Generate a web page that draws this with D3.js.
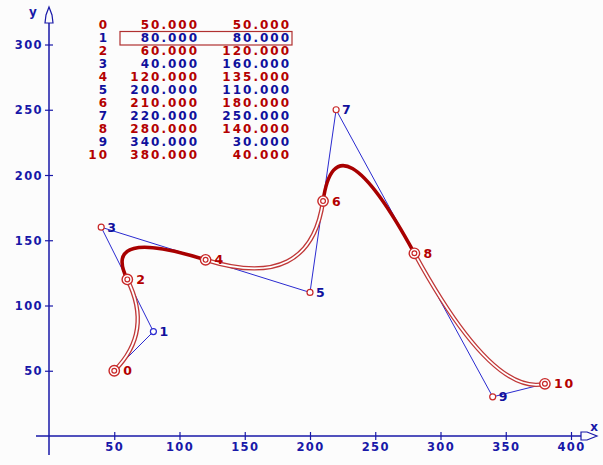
<!DOCTYPE html>
<html>
<head>
<meta charset="utf-8">
<script src="https://cdn.jsdelivr.net/npm/d3@7/dist/d3.min.js"></script>
<style>
  html, body { margin: 0; padding: 0; background: #fcfcfc; }
  svg { display: block; }
  text { font-family: "DejaVu Sans", sans-serif; font-weight: bold; }
</style>
</head>
<body>
<svg id="chart" width="603" height="465"></svg>
<script>
// ---- data ----
const pointIndex = [0, 1, 2, 3, 4, 5, 6, 7, 8, 9, 10];
const xValues = [50, 80, 60, 40, 120, 200, 210, 220, 280, 340, 380];
const yValues = [50, 80, 120, 160, 135, 110, 180, 250, 140, 30, 40];
const xTicks = [50, 100, 150, 200, 250, 300, 350, 400];
const yTicks = [50, 100, 150, 200, 250, 300];
const selectedPoint = 1;
const boldSegments = [1, 3]; // segments (2-3-4) and (6-7-8)

const RED = "#b40000", BLUE = "#10109c", AXIS = "#1818a8", POLY = "#2a2ad0";

const svg = d3.select("#chart");
const x = d3.scaleLinear().domain([0, 400]).range([49, 571]);
const y = d3.scaleLinear().domain([0, 300]).range([436, 44.5]);

const pts = pointIndex.map(i => ({ i, x: xValues[i], y: yValues[i] }));

// ---- axes ----
const gx = svg.append("g").attr("transform", `translate(0,${y(0)})`)
  .call(d3.axisBottom(x).tickValues(xTicks).tickSize(4).tickPadding(0));
gx.select(".domain").remove();
gx.selectAll(".tick line").attr("y1", -4).attr("y2", 4).attr("stroke", AXIS).attr("stroke-width", 1.2);
gx.selectAll(".tick text").attr("y", 15).attr("dy", 0).attr("fill", AXIS)
  .style("font-family", "DejaVu Sans").style("font-size", "11.5px").style("letter-spacing", "1.4px");

const gy = svg.append("g").attr("transform", `translate(${x(0)},0)`)
  .call(d3.axisLeft(y).tickValues(yTicks).tickSize(4).tickPadding(0));
gy.select(".domain").remove();
gy.selectAll(".tick line").attr("x1", -4).attr("x2", 4).attr("stroke", AXIS).attr("stroke-width", 1.2);
gy.selectAll(".tick text").attr("x", -6).attr("dy", "0.36em").attr("fill", AXIS)
  .style("font-family", "DejaVu Sans").style("font-size", "11.5px").style("letter-spacing", "1.4px");

// axis lines
svg.append("line").attr("x1", 36).attr("x2", 581).attr("y1", y(0)).attr("y2", y(0))
  .attr("stroke", AXIS).attr("stroke-width", 1.5);
svg.append("line").attr("x1", x(0)).attr("x2", x(0)).attr("y1", 455).attr("y2", 23)
  .attr("stroke", AXIS).attr("stroke-width", 1.5);
// arrows
const ay = y(0), ax = x(0);
svg.append("path")
  .attr("d", `M581,${ay-4}L587,${ay-4}L597,${ay}L587,${ay+4}L581,${ay+4}Z`)
  .attr("fill", "#fcfcfc").attr("stroke", AXIS).attr("stroke-width", 1.2);
svg.append("path")
  .attr("d", `M${ax},7L${ax+3},15L${ax+4},23L${ax-4},23L${ax-3},15Z`)
  .attr("fill", "#fcfcfc").attr("stroke", AXIS).attr("stroke-width", 1.2);
svg.append("text").attr("x", 594).attr("y", 431).attr("text-anchor", "middle")
  .attr("fill", AXIS).style("font-size", "12px").text("x");
svg.append("text").attr("x", 33).attr("y", 16).attr("text-anchor", "middle")
  .attr("fill", AXIS).style("font-size", "12px").text("y");

// ---- control polygon ----
svg.append("path")
  .datum(pts)
  .attr("d", d3.line().x(d => x(d.x)).y(d => y(d.y)))
  .attr("fill", "none").attr("stroke", POLY).attr("stroke-width", 1);

// ---- quadratic spline segments ----
const segs = [];
for (let k = 0; k + 2 < pts.length; k += 2) segs.push([pts[k], pts[k+1], pts[k+2]]);
function segPath(s) {
  const p = d3.path();
  p.moveTo(x(s[0].x), y(s[0].y));
  p.quadraticCurveTo(x(s[1].x), y(s[1].y), x(s[2].x), y(s[2].y));
  return p.toString();
}
const gc = svg.append("g").attr("fill", "none");
segs.forEach((s, k) => {
  if (boldSegments.includes(k)) {
    gc.append("path").attr("d", segPath(s)).attr("stroke", "#a80000").attr("stroke-width", 3.6)
      .attr("stroke-linecap", "round");
  } else {
    gc.append("path").attr("d", segPath(s)).attr("stroke", "#c03838").attr("stroke-width", 4.4);
    gc.append("path").attr("d", segPath(s)).attr("stroke", "#ffffff").attr("stroke-width", 1.8);
  }
});

// ---- markers ----
const gm = svg.append("g");
pts.forEach(p => {
  const cx = x(p.x), cy = y(p.y);
  const col = p.i === selectedPoint ? "#2a2ad0" : "#c82828";
  if (p.i % 2 === 0) {
    gm.append("circle").attr("cx", cx).attr("cy", cy).attr("r", 5.2)
      .attr("fill", "#fff").attr("stroke", col).attr("stroke-width", 1.4);
    gm.append("circle").attr("cx", cx).attr("cy", cy).attr("r", 2.4)
      .attr("fill", "none").attr("stroke", col).attr("stroke-width", 1.2);
  } else {
    gm.append("circle").attr("cx", cx).attr("cy", cy).attr("r", 3)
      .attr("fill", "#fff").attr("stroke", col).attr("stroke-width", 1.2);
  }
  gm.append("text").attr("x", cx + (p.i % 2 === 0 ? 9 : 6)).attr("y", cy + 4.5)
    .attr("fill", p.i % 2 === 0 ? RED : BLUE)
    .style("font-size", "12.5px").style("letter-spacing", "1.8px").text(p.i);
});

// ---- table ----
const gt = svg.append("g").style("font-size", "12px").style("letter-spacing", "2px");
pts.forEach((p, r) => {
  const yy = 28.5 + r * 13;
  const col = r % 2 === 0 ? RED : BLUE;
  gt.append("text").attr("x", 109).attr("y", yy).attr("text-anchor", "end").attr("fill", col).text(p.i);
  gt.append("text").attr("x", 199).attr("y", yy).attr("text-anchor", "end").attr("fill", col).text(p.x.toFixed(3));
  gt.append("text").attr("x", 291).attr("y", yy).attr("text-anchor", "end").attr("fill", col).text(p.y.toFixed(3));
});
svg.append("rect").attr("x", 120).attr("y", 31.5 + (selectedPoint - 1) * 13).attr("width", 172).attr("height", 13.5)
  .attr("fill", "none").attr("stroke", "#b03030").attr("stroke-width", 1.2);
</script>
</body>
</html>
